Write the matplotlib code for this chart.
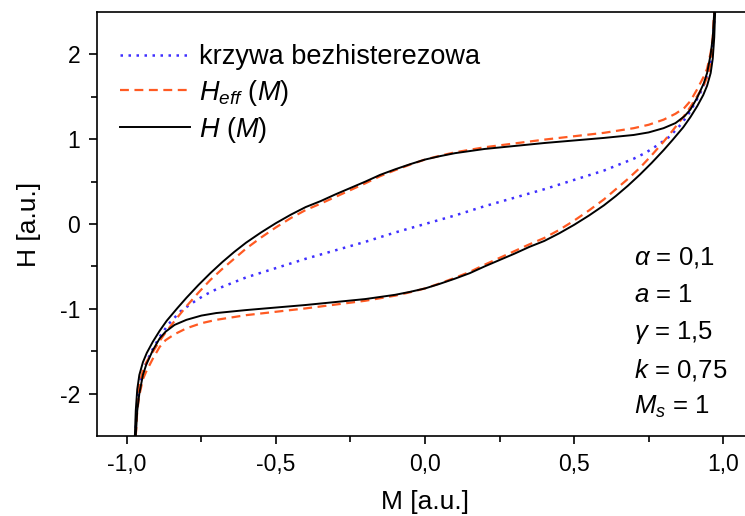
import matplotlib
matplotlib.use("Agg")
import matplotlib.pyplot as plt
from matplotlib.ticker import FixedLocator, FixedFormatter

# anhysteretic curve (blue, dotted)
m_anh = [-0.972, -0.965, -0.955, -0.94, -0.92, -0.89, -0.86, -0.82, -0.78,
         -0.74, -0.70, -0.60, -0.50, -0.40, -0.30, -0.20, -0.10, 0.0,
         0.10, 0.20, 0.30, 0.40, 0.50, 0.60, 0.70, 0.74, 0.78, 0.82, 0.86,
         0.89, 0.92, 0.94, 0.955, 0.965, 0.972]
h_anh = [-2.5, -2.1, -1.85, -1.68, -1.52, -1.33, -1.18, -1.03, -0.93,
         -0.84, -0.77, -0.63, -0.52, -0.41, -0.31, -0.21, -0.10, 0.0,
         0.10, 0.21, 0.31, 0.41, 0.52, 0.63, 0.77, 0.84, 0.93, 1.03, 1.18,
         1.33, 1.52, 1.68, 1.85, 2.1, 2.5]

# H(M), upper branch (black)
m_h_up = [-0.973, -0.970, -0.965, -0.958, -0.946, -0.933, -0.913, -0.89,
          -0.866, -0.83, -0.80, -0.76, -0.72, -0.68, -0.64, -0.60, -0.55,
          -0.50, -0.45, -0.40, -0.35, -0.30, -0.25, -0.20, -0.15, -0.10,
          -0.05, 0.0, 0.05, 0.10, 0.15, 0.20, 0.30, 0.40, 0.50, 0.60, 0.70,
          0.75, 0.80, 0.84, 0.87, 0.89, 0.913, 0.935, 0.946, 0.958, 0.965,
          0.970]
h_h_up = [-2.5, -2.2, -1.95, -1.78, -1.63, -1.52, -1.39, -1.26,
          -1.14, -0.99, -0.87, -0.72, -0.58, -0.45, -0.33, -0.22, -0.10,
          0.01, 0.11, 0.20, 0.27, 0.35, 0.425, 0.50, 0.58, 0.645,
          0.705, 0.76, 0.80, 0.835, 0.86, 0.885, 0.92, 0.955, 0.985, 1.015, 1.05,
          1.08, 1.13, 1.19, 1.27, 1.35, 1.49, 1.66, 1.78, 2.0, 2.2,
          2.5]

# H(M), lower branch (black)
m_h_lo = [-0.970, -0.965, -0.958, -0.946, -0.935, -0.913, -0.89, -0.87,
          -0.84, -0.80, -0.75, -0.70, -0.60, -0.50, -0.40, -0.30, -0.20,
          -0.15, -0.10, -0.05, 0.0, 0.05, 0.10, 0.15, 0.20, 0.25, 0.30,
          0.35, 0.40, 0.45, 0.50, 0.55, 0.60, 0.64, 0.68, 0.72, 0.76, 0.80,
          0.83, 0.866, 0.89, 0.913, 0.933, 0.946, 0.958, 0.965, 0.970, 0.973]
h_h_lo = [-2.5, -2.2, -2.0, -1.78, -1.66, -1.49, -1.35, -1.27,
          -1.19, -1.13, -1.08, -1.05, -1.015, -0.985, -0.955, -0.92, -0.885,
          -0.86, -0.835, -0.80, -0.76, -0.705, -0.645, -0.58, -0.50, -0.425, -0.35,
          -0.27, -0.20, -0.11, -0.01, 0.10, 0.22, 0.33, 0.45, 0.58, 0.72, 0.87,
          0.99, 1.14, 1.26, 1.39, 1.52, 1.63, 1.78, 1.95, 2.2, 2.5]

# H_eff(M), upper branch (orange, dashed)
m_eff_up = [-0.970, -0.967, -0.962, -0.955, -0.946, -0.933, -0.913, -0.89,
            -0.866, -0.83, -0.80, -0.76, -0.72, -0.68, -0.64, -0.60, -0.55,
            -0.50, -0.45, -0.40, -0.35, -0.30, -0.25, -0.20, -0.15, -0.10,
            -0.05, 0.0, 0.05, 0.10, 0.15, 0.20, 0.30, 0.40, 0.50, 0.60, 0.70,
            0.75, 0.80, 0.84, 0.87, 0.89, 0.913, 0.935, 0.946, 0.958, 0.965,
            0.970]
h_eff_up = [-2.5, -2.2, -2.0, -1.85, -1.73, -1.62, -1.51, -1.38,
            -1.26, -1.10, -0.97, -0.81, -0.66, -0.53, -0.41, -0.29, -0.16,
            -0.04, 0.07, 0.165, 0.24, 0.32, 0.40, 0.48, 0.565, 0.635,
            0.70, 0.76, 0.805, 0.845, 0.875, 0.905, 0.95, 0.995, 1.035, 1.075, 1.13,
            1.17, 1.23, 1.30, 1.37, 1.45, 1.59, 1.74, 1.83, 2.02, 2.2,
            2.5]

# H_eff(M), lower branch (orange, dashed)
m_eff_lo = [-0.970, -0.965, -0.958, -0.946, -0.935, -0.913, -0.89, -0.87,
            -0.84, -0.80, -0.75, -0.70, -0.60, -0.50, -0.40, -0.30, -0.20,
            -0.15, -0.10, -0.05, 0.0, 0.05, 0.10, 0.15, 0.20, 0.25, 0.30,
            0.35, 0.40, 0.45, 0.50, 0.55, 0.60, 0.64, 0.68, 0.72, 0.76, 0.80,
            0.83, 0.866, 0.89, 0.913, 0.933, 0.946, 0.955, 0.962, 0.967, 0.970]
h_eff_lo = [-2.5, -2.2, -2.02, -1.83, -1.74, -1.59, -1.45, -1.37,
            -1.30, -1.23, -1.17, -1.13, -1.075, -1.035, -0.995, -0.95, -0.905,
            -0.875, -0.845, -0.805, -0.76, -0.70, -0.635, -0.565, -0.48, -0.40, -0.32,
            -0.24, -0.165, -0.07, 0.04, 0.16, 0.29, 0.41, 0.53, 0.66, 0.81, 0.97,
            1.10, 1.26, 1.38, 1.51, 1.62, 1.73, 1.85, 2.0, 2.2, 2.5]

x_ticks = [-1.0, -0.5, 0.0, 0.5, 1.0]
x_tick_labels = ["-1,0", "-0,5", "0,0", "0,5", "1,0"]
x_minor = [-0.75, -0.25, 0.25, 0.75]
y_ticks = [-2, -1, 0, 1, 2]
y_tick_labels = ["-2", "-1", "0", "1", "2"]
y_minor = [-1.5, -0.5, 0.5, 1.5]

params = [r"$\alpha$ = 0,1", r"$a$ = 1", r"$\gamma$ = 1,5",
          r"$k$ = 0,75", r"$M_s$ = 1"]

plt.rcParams["font.family"] = ["Liberation Sans", "DejaVu Sans"]
plt.rcParams["mathtext.fontset"] = "custom"
plt.rcParams["mathtext.rm"] = "Liberation Sans"
plt.rcParams["mathtext.it"] = "Liberation Sans:italic"
plt.rcParams["axes.unicode_minus"] = False

fig = plt.figure(figsize=(7.45, 5.16), dpi=100)
ax = fig.add_axes([97 / 745, 80 / 516, 656 / 745, 424 / 516])

blue = "#3f2fff"
orange = "#ff5a22"

ax.plot(m_anh, h_anh, color=blue, linestyle=(0, (1, 2.2)), linewidth=1.8,
        label="krzywa bezhisterezowa")
ax.plot(m_eff_up, h_eff_up, color=orange, linestyle=(0, (4, 2.5)),
        linewidth=1.6, label=r"$H_{eff}\ (M)$")
ax.plot(m_eff_lo, h_eff_lo, color=orange, linestyle=(0, (4, 2.5)),
        linewidth=1.6)
ax.plot(m_h_up, h_h_up, color="black", linewidth=1.4, label=r"$H\ (M)$")
ax.plot(m_h_lo, h_h_lo, color="black", linewidth=1.4)

ax.set_xlim(-1.1, 1.1)
ax.set_ylim(-2.5, 2.5)

ax.xaxis.set_major_locator(FixedLocator(x_ticks))
ax.xaxis.set_major_formatter(FixedFormatter(x_tick_labels))
ax.xaxis.set_minor_locator(FixedLocator(x_minor))
ax.yaxis.set_major_locator(FixedLocator(y_ticks))
ax.yaxis.set_major_formatter(FixedFormatter(y_tick_labels))
ax.yaxis.set_minor_locator(FixedLocator(y_minor))

ax.tick_params(which="major", direction="out", length=6, width=1.2,
               labelsize=16.5, pad=6)
ax.tick_params(which="minor", direction="out", length=4, width=1.2)
for s in ax.spines.values():
    s.set_linewidth(1.2)

ax.set_xlabel("M [a.u.]", fontsize=19, labelpad=10)
ax.set_ylabel("H [a.u.]", fontsize=19, labelpad=14)

ax.legend(loc="upper left", bbox_to_anchor=(0.035, 0.924), frameon=False,
          fontsize=19.5, handlelength=2.6, handletextpad=0.3,
          labelspacing=0.27, borderpad=0, borderaxespad=0)

for i, txt in enumerate(params):
    ax.text(0.818, 0.42 - i * 0.088, txt, transform=ax.transAxes,
            fontsize=18.5, ha="left", va="center")

fig.savefig("out.png", dpi=100)
